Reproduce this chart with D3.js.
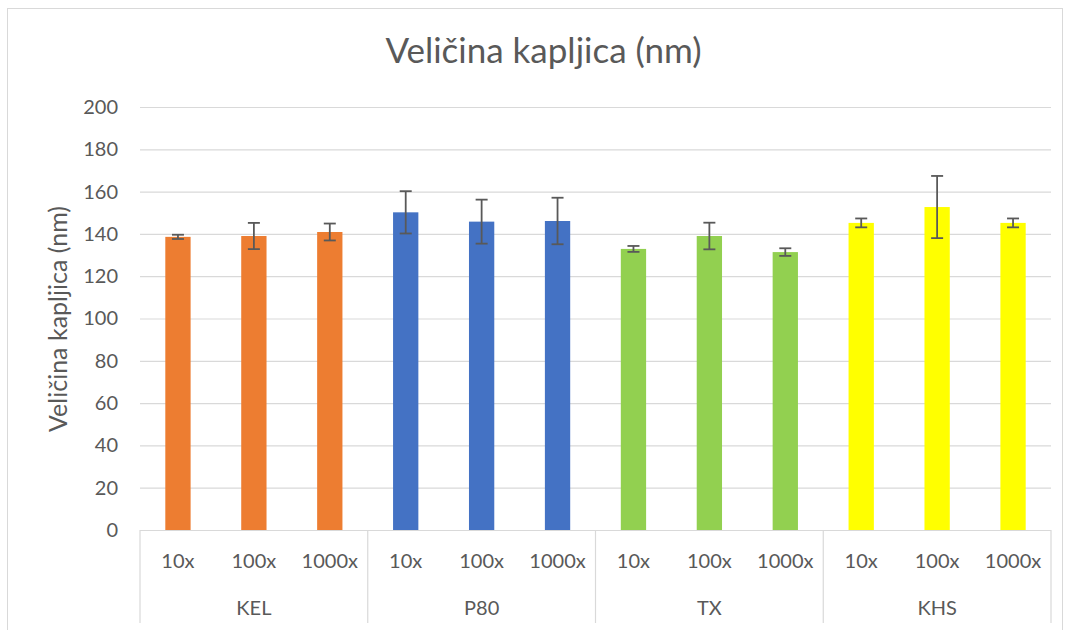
<!DOCTYPE html>
<html><head><meta charset="utf-8">
<script src="https://cdn.jsdelivr.net/npm/d3@7"></script>
<style>body{margin:0;background:#fff}text{font-family:Lato,"Open Sans",sans-serif;fill:#595959}</style>
</head><body><svg id="c" width="1068" height="630"></svg>
<script>
const groups = ["KEL","P80","TX","KHS"];
const dilutions = ["10x","100x","1000x"];
const groupColors = ["#ED7D31","#4472C4","#92D050","#FFFF00"];
const values = [
  [138.6,139.0,140.9],
  [150.2,145.8,146.1],
  [132.9,139.0,131.4],
  [145.2,152.7,145.2]
];
const errors = [
  [1.0,6.2,4.0],
  [10.0,10.4,11.0],
  [1.4,6.3,1.8],
  [2.1,14.7,2.1]
];
const yTicks = [0,20,40,60,80,100,120,140,160,180,200];

const svg = d3.select("#c");
svg.append("rect").attr("x",7.5).attr("y",8.5).attr("width",1055).attr("height",640).attr("fill","none").attr("stroke","#d9d9d9");

const L=140,R=1051,T=107,B=530;
const items=[];
groups.forEach((g,gi)=>dilutions.forEach((d,di)=>items.push({g,gi,d,di,v:values[gi][di],e:errors[gi][di],key:g+"-"+d})));
const x=d3.scaleBand().domain(items.map(d=>d.key)).range([L,R]).paddingInner(2/3).paddingOuter(1/3);
const xg=d3.scaleBand().domain(groups).range([L,R]);
const y=d3.scaleLinear().domain([0,200]).range([B,T]);

// grid
svg.append("g").selectAll("line").data(yTicks.filter(t=>t>0)).join("line")
  .attr("x1",L).attr("x2",R).attr("y1",d=>y(d)+0.5).attr("y2",d=>y(d)+0.5)
  .attr("stroke","#d9d9d9").attr("stroke-width",1.2);
// y axis labels
const ya=svg.append("g").attr("transform",`translate(${L},0)`).call(d3.axisLeft(y).tickValues(yTicks).tickSize(0).tickPadding(22));
ya.select(".domain").remove();
ya.selectAll("text").attr("font-size",20).attr("font-family","Lato,sans-serif").attr("fill","#595959");

// bars
svg.append("g").selectAll("rect").data(items).join("rect")
  .attr("x",d=>x(d.key)).attr("width",x.bandwidth())
  .attr("y",d=>y(d.v)).attr("height",d=>B-y(d.v))
  .attr("fill",d=>groupColors[d.gi]);

// error bars
const eb=svg.append("g").attr("stroke","#595959").attr("stroke-width",1.8);
items.forEach(d=>{
  const cx=x(d.key)+x.bandwidth()/2;
  eb.append("line").attr("x1",cx).attr("x2",cx).attr("y1",y(d.v+d.e)).attr("y2",y(d.v-d.e));
  [d.v+d.e,d.v-d.e].forEach(v=>eb.append("line").attr("x1",cx-6).attr("x2",cx+6).attr("y1",y(v)).attr("y2",y(v)));
});

// x axis
svg.append("line").attr("x1",L).attr("x2",R).attr("y1",B+0.5).attr("y2",B+0.5).attr("stroke","#d9d9d9").attr("stroke-width",1.2);
const seps=[L].concat(groups.map(g=>xg(g)+xg.bandwidth()));
svg.append("g").selectAll("line").data(seps).join("line")
  .attr("x1",d=>d).attr("x2",d=>d).attr("y1",B).attr("y2",623).attr("stroke","#d9d9d9").attr("stroke-width",1.2);
svg.append("g").selectAll("text").data(items).join("text")
  .attr("x",d=>x(d.key)+x.bandwidth()/2).attr("y",568).attr("text-anchor","middle").attr("font-size",20).text(d=>d.d);
svg.append("g").selectAll("text").data(groups).join("text")
  .attr("x",d=>xg(d)+xg.bandwidth()/2).attr("y",615).attr("text-anchor","middle").attr("font-size",20).text(d=>d);

// titles
svg.append("text").attr("x",543.5).attr("y",63).attr("text-anchor","middle").attr("font-size",35).text("Veličina kapljica (nm)");
svg.append("text").attr("transform","translate(67,319) rotate(-90)").attr("text-anchor","middle").attr("font-size",25).text("Veličina kapljica (nm)");
</script></body></html>
